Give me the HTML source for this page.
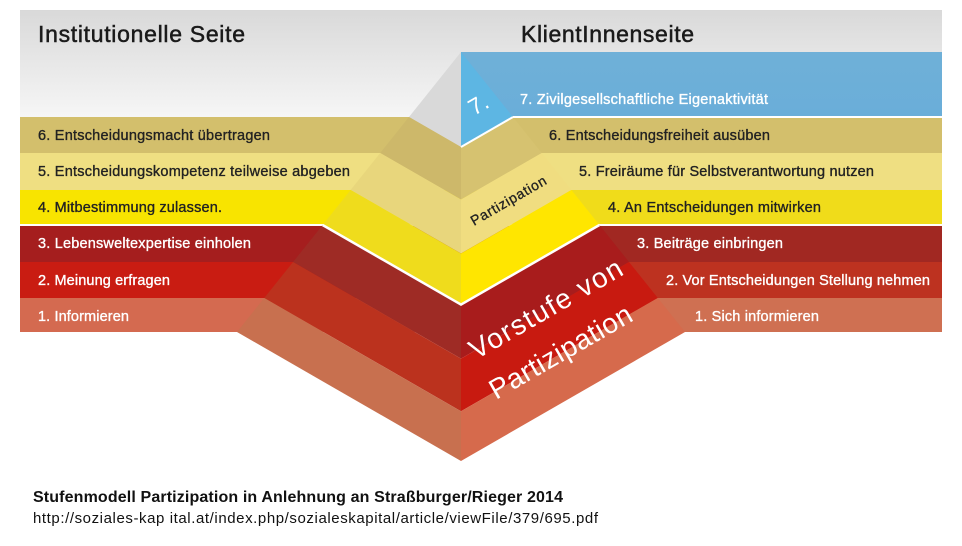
<!DOCTYPE html>
<html><head><meta charset="utf-8"><style>
body{margin:0;background:#fff;}
svg{display:block;font-family:"Liberation Sans",Arial,sans-serif;}
</style></head><body>
<svg width="962" height="546" viewBox="0 0 962 546" xmlns="http://www.w3.org/2000/svg">
<defs>
<linearGradient id="bg" x1="0" y1="0" x2="0" y2="1">
<stop offset="0" stop-color="#d9d9d9"/><stop offset="1" stop-color="#f6f6f6"/>
</linearGradient>
<linearGradient id="blue" x1="0" y1="0" x2="0" y2="1">
<stop offset="0" stop-color="#6fb0d8"/><stop offset="1" stop-color="#6aaed9"/>
</linearGradient>
</defs>
<rect x="20" y="10" width="922" height="107" fill="url(#bg)"/>
<rect x="20" y="117" width="441" height="36" fill="#d3bf6c"/>
<rect x="20" y="153" width="441" height="37" fill="#efdf82"/>
<rect x="20" y="190" width="441" height="35" fill="#f8e400"/>
<rect x="20" y="225" width="441" height="37" fill="#a51e1e"/>
<rect x="20" y="262" width="441" height="36" fill="#c91c12"/>
<rect x="20" y="298" width="441" height="34" fill="#d46a50"/>
<rect x="461" y="52" width="481" height="65" fill="url(#blue)"/>
<rect x="461" y="117" width="481" height="36" fill="#d3bf6c"/>
<rect x="461" y="153" width="481" height="37" fill="#efdf82"/>
<rect x="461" y="190" width="481" height="35" fill="#f0dc1a"/>
<rect x="461" y="225" width="481" height="37" fill="#a12822"/>
<rect x="461" y="262" width="481" height="36" fill="#bd3220"/>
<rect x="461" y="298" width="481" height="34" fill="#cf7052"/>
<line x1="20" y1="225" x2="942" y2="225" stroke="#fff" stroke-width="2"/>
<polygon points="461,52 409,117 461,147" fill="#d9d9d9"/>
<polygon points="409,117 461,147 461,199.5 380.2,153" fill="#cdb86a"/>
<polygon points="380.2,153 461,199.5 461,253.5 350.6,190" fill="#e8d67c"/>
<polygon points="350.6,190 461,253.5 461,304.6 322.6,225" fill="#efdc1c"/>
<polygon points="322.6,225 461,304.6 461,358.6 293,262" fill="#9e2b25"/>
<polygon points="293,262 461,358.6 461,411.2 264.2,298" fill="#bb321e"/>
<polygon points="264.2,298 461,411.2 461,461 237,332" fill="#c8704f"/>
<polygon points="461,52 513,117 461,147" fill="#5db6e3"/>
<polygon points="513,117 461,147 461,199.5 541.8,153" fill="#d6c270"/>
<polygon points="541.8,153 461,199.5 461,253.5 571.4,190" fill="#f0dd80"/>
<polygon points="571.4,190 461,253.5 461,304.6 599.4,225" fill="#ffe600"/>
<polygon points="599.4,225 461,304.6 461,358.6 629,262" fill="#a81c1c"/>
<polygon points="629,262 461,358.6 461,411.2 657.8,298" fill="#c81a10"/>
<polygon points="657.8,298 461,411.2 461,461 685,332" fill="#d66a4c"/>
<polyline points="322.6,225 461,304.6 599.4,225" fill="none" stroke="#fff" stroke-width="2.5"/>
<line x1="513" y1="117" x2="942" y2="117" stroke="#fff" stroke-width="2"/>
<polyline points="513,117 461,147" fill="none" stroke="#fff" stroke-width="2"/>
<g font-size="23" fill="#1a1a1a" stroke="#1a1a1a" stroke-width="0.5">
<text x="38" y="42" textLength="207">Institutionelle Seite</text>
<text x="521" y="42" textLength="173">KlientInnenseite</text>
</g>
<g font-size="14.5" stroke-width="0.35">
<text x="38" y="140" fill="#222" stroke="#222" textLength="232">6. Entscheidungsmacht übertragen</text>
<text x="38" y="176" fill="#222" stroke="#222" textLength="312">5. Entscheidungskompetenz teilweise abgeben</text>
<text x="38" y="212" fill="#222" stroke="#222" textLength="184">4. Mitbestimmung zulassen.</text>
<text x="38" y="248" fill="#fff" stroke="#fff" textLength="213">3. Lebensweltexpertise einholen</text>
<text x="38" y="285" fill="#fff" stroke="#fff" textLength="132">2. Meinung erfragen</text>
<text x="38" y="321" fill="#fff" stroke="#fff" textLength="91">1. Informieren</text>
<text x="520" y="104" fill="#fff" stroke="#fff" textLength="248">7. Zivilgesellschaftliche Eigenaktivität</text>
<text x="549" y="140" fill="#222" stroke="#222" textLength="221">6. Entscheidungsfreiheit ausüben</text>
<text x="579" y="176" fill="#222" stroke="#222" textLength="295">5. Freiräume für Selbstverantwortung nutzen</text>
<text x="608" y="212" fill="#222" stroke="#222" textLength="213">4. An Entscheidungen mitwirken</text>
<text x="637" y="248" fill="#fff" stroke="#fff" textLength="146">3. Beiträge einbringen</text>
<text x="666" y="285" fill="#fff" stroke="#fff" textLength="264">2. Vor Entscheidungen Stellung nehmen</text>
<text x="695" y="321" fill="#fff" stroke="#fff" textLength="124">1. Sich informieren</text>
</g>
<text x="474" y="116" font-size="23" fill="#fff" transform="rotate(-30 474 116)">7.</text>
<text x="474" y="226" font-size="14" fill="#222" stroke="#222" stroke-width="0.3" transform="rotate(-30 474 226)" textLength="85">Partizipation</text>
<text x="476" y="360" font-size="28" fill="#fff" transform="rotate(-30 476 360)" textLength="172">Vorstufe von</text>
<text x="496" y="400" font-size="28" fill="#fff" transform="rotate(-30 496 400)" textLength="160">Partizipation</text>
<text x="33" y="502" font-size="16" font-weight="bold" fill="#111" textLength="530">Stufenmodell Partizipation in Anlehnung an Straßburger/Rieger 2014</text>
<text x="33" y="523" font-size="15" fill="#111" textLength="565">http://soziales-kap ital.at/index.php/sozialeskapital/article/viewFile/379/695.pdf</text>
</svg>
</body></html>
